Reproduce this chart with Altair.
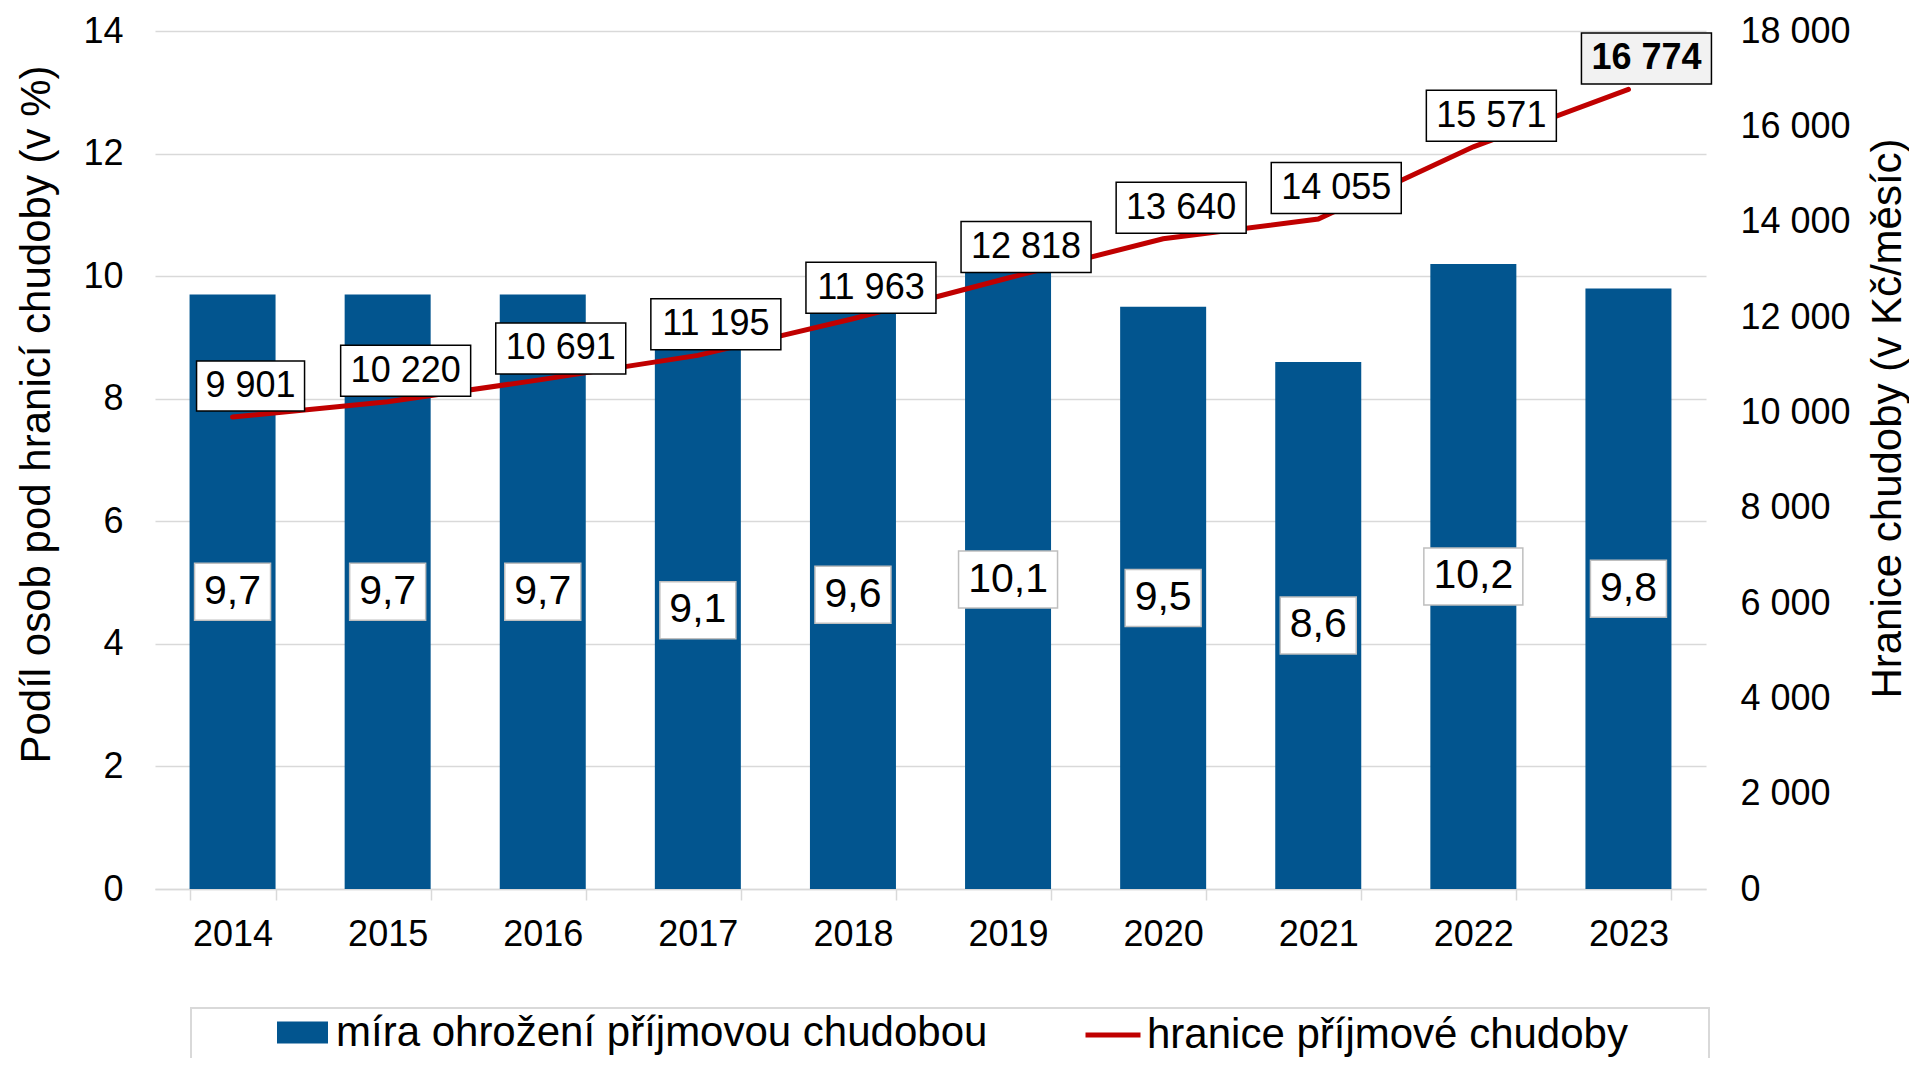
import altair as alt
import pandas as pd

# ---- data ----
years = ["2014", "2015", "2016", "2017", "2018", "2019", "2020", "2021", "2022", "2023"]
rate = [9.7, 9.7, 9.7, 9.1, 9.6, 10.1, 9.5, 8.6, 10.2, 9.8]
threshold = [9901, 10220, 10691, 11195, 11963, 12818, 13640, 14055, 15571, 16774]
left_ticks = [0, 2, 4, 6, 8, 10, 12, 14]
right_ticks = [0, 2000, 4000, 6000, 8000, 10000, 12000, 14000, 16000, 18000]
SERIES_BAR = "míra ohrožení příjmovou chudobou"
SERIES_LINE = "hranice příjmové chudoby"
LEFT_TITLE = "Podíl osob pod hranicí chudoby (v %)"
RIGHT_TITLE = "Hranice chudoby (v Kč/měsíc)"

df = pd.DataFrame({"year": years, "rate": rate, "thr": threshold})

# ---- styles ----
FONT = "Liberation Sans"
BLUE = "#02558f"
RED = "#c00000"
GRID = "#d9d9d9"
BOX3 = "M-38,-28.5H38V28.5H-38Z"
BOX4 = "M-49.5,-28.5H49.5V28.5H-49.5Z"
LBOX4 = "M-54,-25H54V25H-54Z"
LBOX5 = "M-65,-25.5H65V25.5H-65Z"
LDX, LDY = 18, -31

x_enc = alt.X(
    "year:N",
    sort=None,
    scale=alt.Scale(paddingInner=0.4455, paddingOuter=0.2228),
    axis=alt.Axis(
        title=None, labelAngle=0, labelFontSize=36, labelColor="black",
        domainColor=GRID, domainWidth=1.5, tickColor=GRID, tickWidth=1.5,
        tickSize=11, tickBand="extent", labelPadding=17, grid=False,
    ),
)

left_scale = alt.Scale(domain=[0, 14])
right_scale = alt.Scale(domain=[0, 18000])

left_axis = alt.Axis(
    values=left_ticks, title=LEFT_TITLE, labelFontSize=36, titleFontSize=42,
    titleFontWeight="normal", grid=True, gridColor=GRID, gridWidth=1.5,
    domain=False, ticks=False, labelPadding=32, titleAngle=270,
    titleX=-119, titleY=383, titleAlign="center", titleBaseline="middle",
    labelColor="black", titleColor="black",
)
right_axis = alt.Axis(
    orient="right", values=right_ticks,
    labelExpr="replace(format(datum.value, ','), ',', ' ')",
    title=RIGHT_TITLE, labelFontSize=36, titleFontSize=42,
    titleFontWeight="normal", grid=False, domain=False, ticks=False,
    labelPadding=34, titleAngle=270, titleX=181, titleY=387,
    titleAlign="center", titleBaseline="middle",
    labelColor="black", titleColor="black",
)

base = alt.Chart(df)

bars = base.transform_calculate(series=f"'{SERIES_BAR}'").mark_bar().encode(
    x=x_enc,
    y=alt.Y("rate:Q", scale=left_scale, axis=left_axis, title=LEFT_TITLE),
    fill=alt.Fill(
        "series:N",
        scale=alt.Scale(domain=[SERIES_BAR], range=[BLUE]),
        legend=alt.Legend(
            orient="none", legendX=122, legendY=976, title=None,
            symbolType="M-1,-0.43H1V0.43H-1Z", symbolSize=2601,
            symbolStrokeWidth=0, labelFontSize=42, labelColor="black",
            labelFont=FONT, labelOffset=8, padding=0, labelLimit=1000,
        ),
    ),
)

bar_box = base.transform_calculate(half="datum.rate / 2").mark_point(
    filled=True, size=4, opacity=1, fill="white", stroke="#bfbfbf", strokeWidth=1.5
).encode(
    x=x_enc,
    y=alt.Y("half:Q", scale=left_scale, axis=left_axis, title=LEFT_TITLE),
    shape=alt.condition("datum.rate >= 10", alt.value(BOX4), alt.value(BOX3)),
)

bar_text = base.transform_calculate(
    half="datum.rate / 2",
    lab="replace(format(datum.rate, '.1f'), '.', ',')",
).mark_text(fontSize=41, color="black", baseline="middle", align="center").encode(
    x=x_enc,
    y=alt.Y("half:Q", scale=left_scale, axis=left_axis, title=LEFT_TITLE),
    text="lab:N",
)

line = base.transform_calculate(series=f"'{SERIES_LINE}'").mark_line(
    strokeWidth=5, strokeCap="round"
).encode(
    x=x_enc,
    y=alt.Y("thr:Q", scale=right_scale, axis=right_axis, title=RIGHT_TITLE),
    stroke=alt.Stroke(
        "series:N",
        scale=alt.Scale(domain=[SERIES_LINE], range=[RED]),
        legend=alt.Legend(
            orient="none", legendX=928, legendY=974, title=None,
            symbolType="stroke", symbolSize=3025, symbolStrokeWidth=5,
            labelFontSize=42, labelColor="black", labelFont=FONT,
            labelOffset=4, padding=0, labelLimit=1000,
        ),
    ),
)

line_box = base.mark_point(
    filled=True, size=4, opacity=1, stroke="black", strokeWidth=1.5,
    xOffset=LDX, yOffset=LDY,
).encode(
    x=x_enc,
    y=alt.Y("thr:Q", scale=right_scale, axis=right_axis, title=RIGHT_TITLE),
    shape=alt.condition("datum.thr < 10000", alt.value(LBOX4), alt.value(LBOX5)),
    fill=alt.condition("datum.year == '2023'", alt.value("#f2f2f2"), alt.value("white")),
)

line_text = base.transform_filter("datum.year != '2023'").transform_calculate(
    lab="replace(format(datum.thr, ','), ',', ' ')"
).mark_text(fontSize=36, color="black", dx=LDX, dy=LDY, baseline="middle", align="center").encode(
    x=x_enc,
    y=alt.Y("thr:Q", scale=right_scale, axis=right_axis, title=RIGHT_TITLE),
    text="lab:N",
)

line_text_last = base.transform_filter("datum.year == '2023'").transform_calculate(
    lab="replace(format(datum.thr, ','), ',', ' ')"
).mark_text(fontSize=36, fontWeight="bold", color="black", dx=LDX, dy=LDY,
            baseline="middle", align="center").encode(
    x=x_enc,
    y=alt.Y("thr:Q", scale=right_scale, axis=right_axis, title=RIGHT_TITLE),
    text="lab:N",
)

frame = alt.Chart(alt.Data(values=[{}])).mark_rect(
    fillOpacity=0, stroke=GRID, strokeWidth=2
).encode(
    x=alt.value(36), x2=alt.value(1554), y=alt.value(977), y2=alt.value(1200)
)

left = alt.layer(bars, bar_box, bar_text)
right = alt.layer(line, line_box, line_text, line_text_last)

chart = alt.layer(frame, left, right).resolve_scale(
    y="independent", fill="independent", stroke="independent"
).properties(
    width=1551, height=858,
    padding={"left": 147, "top": 23, "right": 203, "bottom": 169},
    autosize=alt.AutoSizeParams(type="none"),
).configure(font=FONT).configure_view(stroke=None)

chart.save("out.html", embed_options={"renderer": "svg", "actions": False})
